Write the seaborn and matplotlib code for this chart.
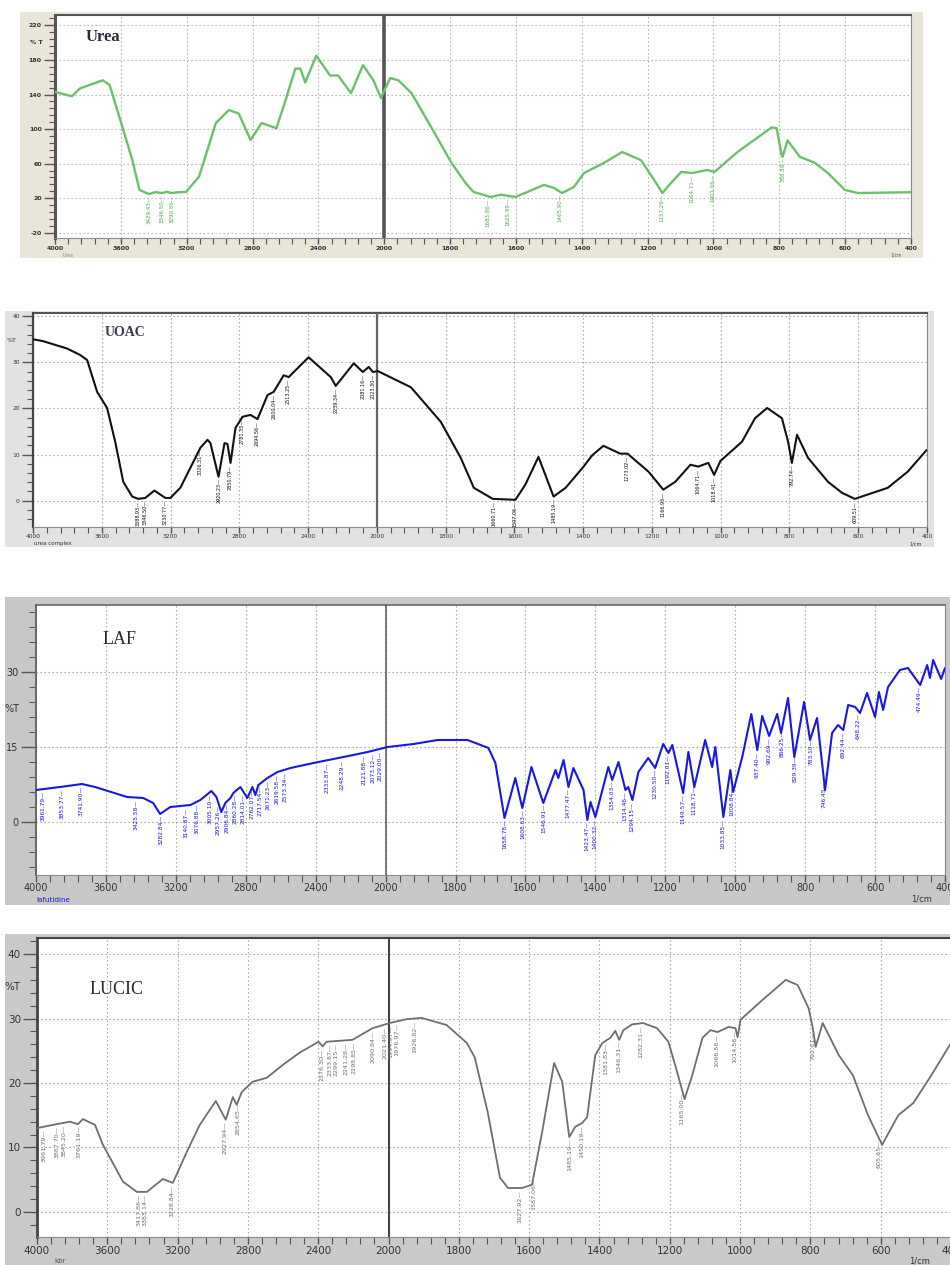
import numpy as np
import pandas as pd
import matplotlib
matplotlib.use("Agg")
import matplotlib.pyplot as plt
from matplotlib.patches import Rectangle
import seaborn as sns

sns.set_theme(style="white")
plt.rcParams['font.family'] = ['DejaVu Sans']

# ---------------- data (wavenumber in 1/cm, transmittance %T) ----------------
urea_wn = [4000, 3897, 3849, 3710, 3668, 3590, 3530, 3487, 3445, 3427, 3390, 3348, 3320, 3294, 3250, 3204, 3125, 3023, 2944, 2884, 2812, 2745, 2655, 2600, 2540, 2510, 2480, 2413, 2329, 2280, 2202, 2129, 2066, 2020, 1982, 1957, 1917, 1857, 1796, 1753, 1729, 1677, 1646, 1601, 1515, 1485, 1460, 1424, 1393, 1332, 1277, 1220, 1180, 1155, 1140, 1098, 1064, 1019, 997, 927, 823, 808, 793, 790, 775, 738, 692, 652, 601, 561, 400]
urea_T = [143, 138, 147, 156.5, 151, 102, 64, 29.6, 26, 25, 27, 26, 27.5, 26, 27, 27.3, 45, 107, 122, 118, 87.3, 107, 101, 133, 170, 170, 154, 185, 162, 162, 141.5, 174, 156.5, 136, 159, 156.5, 141.5, 102, 61, 37.7, 27.3, 21.5, 24, 21.5, 35.4, 32, 26, 33, 49.2, 61, 73.5, 64, 41, 26, 33, 50.4, 49.2, 52.7, 50.4, 73.5, 102, 101, 70, 68, 87, 68, 61, 49, 29.6, 26, 27]
urea_peaks = ["3429.43", "3346.50", "3290.56", "1683.86", "1625.99", "1465.90", "1157.29", "1064.71", "1001.06", "788.89"]

uoac_wn = [4000, 3942, 3802, 3726, 3685, 3627, 3569, 3522, 3475, 3423, 3388, 3347, 3294, 3230, 3201, 3143, 3026, 2985, 2968, 2921, 2886, 2869, 2851, 2822, 2781, 2735, 2694, 2636, 2600, 2542, 2513, 2397, 2268, 2239, 2134, 2082, 2047, 2023, 1997, 1901, 1814, 1756, 1718, 1663, 1597, 1568, 1530, 1486, 1451, 1402, 1373, 1341, 1292, 1271, 1210, 1167, 1132, 1088, 1065, 1036, 1019, 1001, 938, 900, 865, 822, 804, 793, 778, 746, 688, 647, 610, 514, 456, 401]
uoac_T = [35, 34.6, 33, 31.6, 30.5, 23.6, 20.1, 12.8, 4.1, 0.9, 0.4, 0.6, 2.2, 0.6, 0.6, 2.8, 11.5, 13.2, 12.5, 5.2, 12.5, 12.3, 8.2, 15.8, 18.2, 18.6, 17.7, 22.9, 23.6, 27.2, 26.8, 31.1, 26.8, 24.9, 29.8, 27.9, 29, 27.9, 28.1, 24.6, 17.1, 9.3, 2.8, 0.4, 0.2, 3.5, 9.5, 0.9, 2.8, 7.1, 9.9, 11.9, 10.2, 10.2, 6.3, 2.4, 4.1, 7.8, 7.4, 8.2, 5.6, 8.6, 12.8, 17.9, 20.1, 17.9, 12.8, 8.2, 14.3, 9.3, 4.1, 1.7, 0.4, 2.8, 6.3, 11]
uoac_peaks = ["3388.93", "3346.50", "3230.77", "3026.31", "2920.23", "2850.79", "2781.35", "2694.56", "2600.04", "2513.25", "2239.34", "2081.16", "2023.30", "1660.71", "1597.06", "1485.19", "1273.02", "1166.93", "1064.71", "1018.41", "792.74", "609.51"]

laf_wn = [4000, 3862, 3737, 3662, 3479, 3387, 3330, 3290, 3232, 3117, 3060, 2997, 2968, 2940, 2917, 2888, 2871, 2831, 2791, 2762, 2745, 2728, 2676, 2619, 2544, 2413, 2241, 2103, 1994, 1920, 1851, 1766, 1743, 1706, 1686, 1660, 1629, 1609, 1583, 1549, 1514, 1506, 1491, 1477, 1463, 1434, 1423, 1414, 1400, 1363, 1352, 1334, 1314, 1306, 1294, 1277, 1249, 1229, 1206, 1191, 1180, 1149, 1134, 1117, 1086, 1066, 1057, 1034, 1014, 1006, 980, 954, 937, 923, 903, 880, 869, 849, 831, 803, 786, 766, 743, 723, 706, 691, 677, 657, 643, 623, 600, 589, 577, 563, 529, 506, 471, 451, 443, 434, 411, 400]
laf_T = [6.4, 7, 7.6, 7, 5, 4.8, 3.8, 1.6, 3, 3.4, 4.4, 6.2, 5, 2, 3.8, 4.8, 5.8, 7, 4.8, 7, 5.4, 7.4, 8.8, 10, 10.8, 11.8, 13, 14, 15, 15.6, 16.4, 16.4, 15.8, 14.8, 11.8, 0.8, 8.8, 2.8, 11, 3.8, 10.4, 8.8, 12.4, 7, 10.8, 6.4, 0.4, 4, 1, 11, 8.4, 12, 6.4, 7, 4.4, 10, 12.8, 10.8, 15.6, 13.8, 15.4, 5.8, 14, 7, 16.4, 11, 15, 1, 10.4, 6, 13, 21.6, 14.4, 21.2, 17.2, 21.6, 17.8, 24.8, 13, 24, 16.4, 20.8, 6.4, 17.8, 19.4, 18.4, 23.4, 23, 21.8, 25.8, 21, 26, 22.4, 27, 30.4, 30.8, 27.4, 31.4, 28.8, 32.4, 28.6, 30.8]
laf_peaks = ["3961.79", "3853.77", "3741.90", "3425.58", "3282.84", "3140.87", "3076.88", "3005.10", "2957.26", "2906.84", "2860.28", "2814.01", "2762.07", "2717.54", "2671.23", "2619.58", "2573.34", "2333.87", "2248.29", "2121.88", "2073.12", "2029.00", "1658.78", "1608.63", "1546.91", "1477.47", "1423.47", "1400.32", "1354.03", "1314.46", "1294.15", "1230.50", "1192.01", "1149.57", "1118.71", "1033.85", "1008.84", "937.40", "902.69", "866.25", "829.39", "783.10", "746.45", "692.44", "648.22", "474.49"]

lucic_wn = [4000, 3909, 3812, 3767, 3739, 3670, 3625, 3511, 3432, 3375, 3284, 3227, 3148, 3074, 2983, 2926, 2886, 2864, 2835, 2773, 2693, 2602, 2506, 2398, 2375, 2352, 2205, 2091, 1997, 1949, 1906, 1835, 1777, 1755, 1718, 1683, 1660, 1621, 1592, 1563, 1529, 1506, 1486, 1469, 1449, 1435, 1412, 1392, 1369, 1355, 1344, 1332, 1307, 1276, 1236, 1204, 1179, 1158, 1136, 1107, 1084, 1064, 1033, 1013, 1007, 999, 936, 870, 836, 805, 793, 785, 765, 719, 679, 636, 596, 550, 507, 456, 400]
lucic_T = [13, 13.5, 14, 13.6, 14.4, 13.5, 10.4, 4.7, 3.1, 3.1, 5.1, 4.5, 9.3, 13.5, 17.2, 14.3, 17.8, 16.6, 18.6, 20.2, 20.8, 22.8, 24.7, 26.4, 25.7, 26.4, 26.7, 28.5, 29.3, 29.9, 30.1, 29, 26.2, 24, 15.5, 5.3, 3.7, 3.7, 4.2, 12.4, 23.1, 20.2, 11.6, 13.2, 13.8, 14.7, 24.3, 26.2, 27, 28.1, 26.7, 28.2, 29.1, 29.3, 28.5, 26.4, 21.7, 17.5, 21.2, 27, 28.2, 27.9, 28.7, 28.5, 27.1, 29.8, 32.9, 36, 35.2, 31.6, 28.5, 25.6, 29.3, 24.3, 21.2, 15, 10.4, 15, 16.9, 21.2, 26.2]
lucic_peaks = ["3961.79", "3887.70", "3845.20", "3761.19", "3417.86", "3383.14", "3228.84", "2927.94", "2854.65", "2376.30", "2333.87", "2299.15", "2241.28", "2198.85", "2090.84", "2021.40", "1994.97", "1976.97", "1926.82", "1627.92", "1587.06", "1485.19", "1450.19", "1381.83", "1346.31", "1282.31", "1165.00", "1066.56", "1014.56", "792.61", "605.65"]

x_major = [4000, 3600, 3200, 2800, 2400, 2000, 1800, 1600, 1400, 1200, 1000, 800, 600, 400]

# ---------------- helpers ----------------
W, H = 950, 1265


def fwd(w):
    w = np.asarray(w, dtype=float)
    return np.where(w >= 2000, w / 400.0, w / 200.0 - 5.0)


def inv(u):
    u = np.asarray(u, dtype=float)
    return np.where(u >= 5, u * 400.0, (u + 5.0) * 200.0)


fig = plt.figure(figsize=(W / 100, H / 100), dpi=100)
fig.patch.set_facecolor('white')


def bg(x0, y0, x1, y1, color):
    fig.add_artist(Rectangle((x0 / W, 1 - y1 / H), (x1 - x0) / W, (y1 - y0) / H,
                             transform=fig.transFigure, facecolor=color,
                             edgecolor='none', zorder=-5))


def ftext(x, y, s, **kw):
    fig.text(x / W, 1 - y / H, s, **kw)


def panel(box, wn, tr, color, lw, ylim, yticks, yminor, fs, peaks, pfs,
          maj_len, min_len, spine_c, left_lw, top_lw, vline_c, vline_lw,
          grid_c='#9c9c9c', bold=False, pcolor=None, xpad=1.5):
    l, t, r, b = box
    ax = fig.add_axes([l / W, 1 - b / H, (r - l) / W, (b - t) / H])
    ax.set_facecolor('white')
    df = pd.DataFrame({"wn": wn, "T": tr})
    sns.lineplot(data=df, x="wn", y="T", ax=ax, color=color, lw=lw,
                 sort=False, estimator=None, zorder=5)
    ax.set_xscale('function', functions=(fwd, inv))
    ax.set_xlim(4000, 400)
    ax.set_ylim(*ylim)
    ax.set_xlabel('')
    ax.set_ylabel('')
    ax.set_xticks(x_major)
    ax.set_xticklabels([str(v) for v in x_major],
                       fontweight='bold' if bold else 'normal')
    ax.set_xticks(list(range(3920, 2000, -80)) + list(range(1960, 400, -40)), minor=True)
    ax.set_yticks(yticks)
    ax.set_yticklabels([str(v) for v in yticks],
                       fontweight='bold' if bold else 'normal')
    ax.set_yticks(yminor, minor=True)
    ax.tick_params(which='both', bottom=True, left=True, top=False, right=False,
                   direction='out', color='#555555')
    ax.tick_params(which='major', length=maj_len, width=1.0, labelsize=fs,
                   labelcolor='#333333', pad=1.5)
    ax.tick_params(axis='x', which='major', length=min_len, pad=xpad)
    ax.tick_params(which='minor', length=min_len, width=0.8)
    ax.grid(True, which='major', linestyle=(0, (1.2, 2.4)), color=grid_c, lw=0.8)
    ax.axvline(2000, color=vline_c, lw=vline_lw, zorder=3)
    for side in ('right', 'bottom'):
        ax.spines[side].set_color('#8a8a8a')
        ax.spines[side].set_linewidth(0.8)
    ax.spines['left'].set_color(spine_c)
    ax.spines['left'].set_linewidth(left_lw)
    ax.spines['top'].set_color(spine_c)
    ax.spines['top'].set_linewidth(top_lw)
    wn_arr = np.asarray(wn, dtype=float)[::-1]
    tr_arr = np.asarray(tr, dtype=float)[::-1]
    for lab in peaks:
        pw = float(lab)
        pv = np.interp(pw, wn_arr, tr_arr)
        ax.annotate(lab + "\u2014", (pw, pv), xytext=(0, -1.5), textcoords='offset points',
                    rotation=90, ha='center', va='top', fontsize=pfs,
                    color=pcolor or color, zorder=6, annotation_clip=False)
    return ax


# ---------------- panel 1 : Urea ----------------
bg(20, 12, 923, 258, '#E9E5D8')
panel((55, 15, 911, 238), urea_wn, urea_T, '#6CC06C', 1.7, (-26, 232),
      [-20, 20, 60, 100, 140, 180, 220], list(range(-20, 232, 8)), 4.5,
      urea_peaks, 4.0, 8, 4, '#555555', 2.2, 1.5, '#555555', 2.6,
      grid_c='#a8a8a8', bold=True, pcolor='#4FA84F')
ftext(103, 37, 'Urea', fontsize=12, fontweight='bold', family='Liberation Serif',
      color='#2a2a3c', ha='center', va='center')
ftext(36, 42, '% T', fontsize=4.5, fontweight='bold', color='#333333', ha='center', va='center')
ftext(68, 256, 'Urea', fontsize=3.3, color='#5CA85C', ha='center', va='center')
ftext(896, 255, '1/cm', fontsize=3.3, color='#555555', ha='center', va='center')

# ---------------- panel 2 : UOAC ----------------
bg(5, 311, 934, 547, '#E2E2E2')
panel((33, 313, 927, 527), uoac_wn, uoac_T, '#111111', 1.5, (-5.7, 40.7),
      [0, 10, 20, 30, 40], list(range(-4, 41, 2)), 4.3,
      uoac_peaks, 3.5, 8, 4, '#444444', 1.6, 1.3, '#666666', 1.6, xpad=0.8)
ftext(125, 332, 'UOAC', fontsize=10, fontweight='bold', family='Liberation Serif',
      color='#3a3a4a', ha='center', va='center')
ftext(12, 341, '%T', fontsize=4.5, color='#333333', ha='center', va='center')
ftext(34, 543.5, 'urea complex', fontsize=4.0, color='#333333', ha='left', va='center')
ftext(916, 543.5, '1/cm', fontsize=3.6, color='#333333', ha='center', va='center')

# ---------------- panel 3 : LAF ----------------
bg(5, 597, 950, 905, '#C8C8C8')
panel((36, 605, 945, 875), laf_wn, laf_T, '#1818E0', 1.5, (-10.6, 43.4),
      [0, 15, 30], list(range(-9, 43, 3)), 7,
      laf_peaks, 4.2, 11, 5, '#666666', 1.4, 1.2, '#555555', 1.1, xpad=0.8)
ftext(120, 640, 'LAF', fontsize=13, family='Liberation Serif',
      color='#2a2a2a', ha='center', va='center')
ftext(12, 709, '%T', fontsize=7, color='#333333', ha='center', va='center')
ftext(36, 899.5, 'lafutidine', fontsize=5.2, color='#2020D0', ha='left', va='center')
ftext(922, 899.5, '1/cm', fontsize=6, color='#333333', ha='center', va='center')

# ---------------- panel 4 : LUCIC ----------------
bg(5, 934, 950, 1265, '#CACACA')
panel((37, 938, 951, 1237), lucic_wn, lucic_T, '#6E6E6E', 1.3, (-3.9, 42.5),
      [0, 10, 20, 30, 40], list(range(-2, 43, 2)), 7.5,
      lucic_peaks, 4.6, 10, 5, '#444444', 2.0, 1.5, '#444444', 1.5)
ftext(117, 990, 'LUCIC', fontsize=13, family='Liberation Serif',
      color='#2a2a2a', ha='center', va='center')
ftext(12, 987, '%T', fontsize=7.5, color='#333333', ha='center', va='center')
ftext(60, 1261, 'kbr', fontsize=5, color='#555555', ha='center', va='center')
ftext(920, 1261, '1/cm', fontsize=6, color='#333333', ha='center', va='center')

fig.savefig('out.png', dpi=100, facecolor='white')
